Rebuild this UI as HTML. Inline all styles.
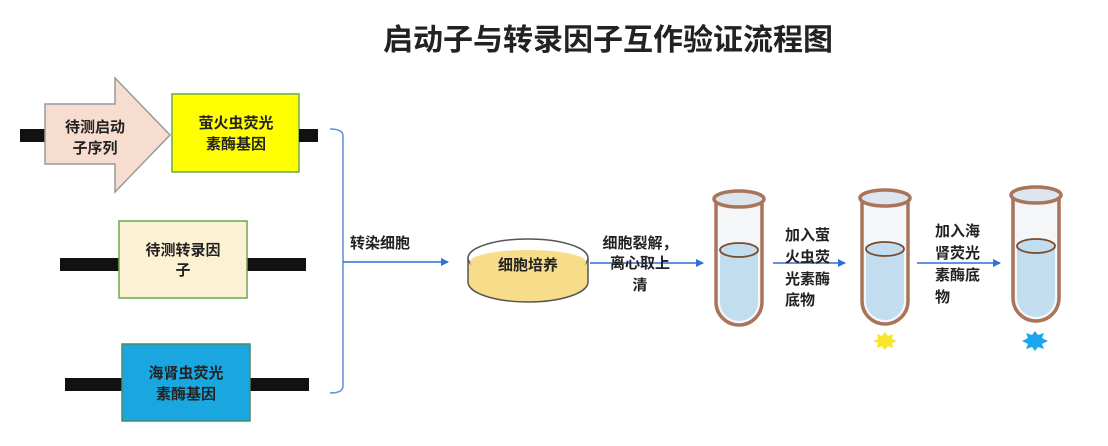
<!DOCTYPE html>
<html><head><meta charset="utf-8"><style>
html,body{margin:0;padding:0;background:#fff;}
svg{display:block;font-family:"Liberation Sans","Noto Sans CJK SC",sans-serif;}
</style></head><body>
<svg width="1108" height="446" viewBox="0 0 1108 446">
<defs>
<g id="tube">
<path d="M3,0 L3,103 A23,23 0 0 0 49,103 L49,0" fill="#f4f6f8" stroke="#a8745a" stroke-width="3.5"/>
<path d="M7,51 L7,103 A19,19 0 0 0 45,103 L45,51 Z" fill="#c3ddf0"/>
<ellipse cx="26" cy="51" rx="19" ry="7" fill="#c3ddf0" stroke="#7a4a2a" stroke-width="1.8"/>
<ellipse cx="26" cy="0" rx="25" ry="8" fill="#dde6ee" stroke="#a8745a" stroke-width="3.5"/>
</g>
<marker id="ah" markerWidth="8" markerHeight="8" refX="7" refY="4" orient="auto" markerUnits="userSpaceOnUse"><path d="M0,0 L8,4 L0,8 Z" fill="#2f6fd6"/></marker>
</defs>
<text x="608" y="50" text-anchor="middle" font-size="30" font-weight="bold" fill="#222">启动子与转录因子互作验证流程图</text>

<!-- row 1 -->
<rect x="20" y="129" width="27" height="13" fill="#111"/>
<path d="M45,104 L115,104 L115,78 L170,135 L115,192 L115,164 L45,164 Z" fill="#f6ddd0" stroke="#9a9a9a" stroke-width="1.5"/>
<text x="95" y="132" text-anchor="middle" font-size="15" font-weight="bold" fill="#222">待测启动</text>
<text x="95" y="153" text-anchor="middle" font-size="15" font-weight="bold" fill="#222">子序列</text>
<rect x="172" y="94" width="127" height="78" fill="#ffff00" stroke="#6aa84f" stroke-width="1.5"/>
<text x="236" y="128" text-anchor="middle" font-size="15" font-weight="bold" fill="#222">萤火虫荧光</text>
<text x="236" y="149" text-anchor="middle" font-size="15" font-weight="bold" fill="#222">素酶基因</text>
<rect x="299" y="129" width="19" height="13" fill="#111"/>

<!-- row 2 -->
<rect x="60" y="258" width="60" height="13" fill="#111"/>
<rect x="247" y="258" width="59" height="13" fill="#111"/>
<rect x="119" y="221" width="128" height="77" fill="#fdf1d3" stroke="#6aa84f" stroke-width="1.5"/>
<text x="183" y="255" text-anchor="middle" font-size="15" font-weight="bold" fill="#222">待测转录因</text>
<text x="183" y="275" text-anchor="middle" font-size="15" font-weight="bold" fill="#222">子</text>

<!-- row 3 -->
<rect x="65" y="378" width="58" height="13" fill="#111"/>
<rect x="250" y="378" width="59" height="13" fill="#111"/>
<rect x="122" y="344" width="128" height="77" fill="#1aa7df" stroke="#4a8a6a" stroke-width="1.5"/>
<text x="186" y="378" text-anchor="middle" font-size="15" font-weight="bold" fill="#222">海肾虫荧光</text>
<text x="186" y="399" text-anchor="middle" font-size="15" font-weight="bold" fill="#222">素酶基因</text>

<!-- bracket -->
<path d="M330,129 Q343,129 343,136 L343,386 Q343,393 330,393" fill="none" stroke="#5b8fd6" stroke-width="1.5"/>
<line x1="343" y1="262" x2="448" y2="262" stroke="#2f6fd6" stroke-width="1.5" marker-end="url(#ah)"/>
<text x="350" y="248" font-size="15" font-weight="bold" fill="#222">转染细胞</text>

<!-- dish -->
<path d="M468,258 L468,282 A60,20 0 0 0 588,282 L588,258" fill="#f7dc8a" stroke="#555" stroke-width="1.5"/>
<ellipse cx="528" cy="258" rx="60" ry="19" fill="#fff" stroke="#555" stroke-width="1.5"/>
<path d="M470,262 A58,16 0 0 0 586,262 A58,12 0 0 0 470,262 Z" fill="#f7dc8a"/>
<text x="528" y="270" text-anchor="middle" font-size="15" font-weight="bold" fill="#222">细胞培养</text>

<line x1="590" y1="263" x2="703" y2="263" stroke="#2f6fd6" stroke-width="1.5" marker-end="url(#ah)"/>
<text x="640" y="248" text-anchor="middle" font-size="15" font-weight="bold" fill="#222">细胞裂解，</text>
<text x="640" y="268" text-anchor="middle" font-size="15" font-weight="bold" fill="#222">离心取上</text>
<text x="640" y="290" text-anchor="middle" font-size="15" font-weight="bold" fill="#222">清</text>

<use href="#tube" x="713" y="199"/>
<line x1="773" y1="263" x2="845" y2="263" stroke="#2f6fd6" stroke-width="1.5" marker-end="url(#ah)"/>
<text x="785" y="240" font-size="15" font-weight="bold" fill="#222">加入萤</text>
<text x="785" y="262" font-size="15" font-weight="bold" fill="#222">火虫荧</text>
<text x="785" y="284" font-size="15" font-weight="bold" fill="#222">光素酶</text>
<text x="785" y="305" font-size="15" font-weight="bold" fill="#222">底物</text>

<use href="#tube" x="859" y="198"/>
<line x1="917" y1="263" x2="1000" y2="263" stroke="#2f6fd6" stroke-width="1.5" marker-end="url(#ah)"/>
<text x="935" y="236" font-size="15" font-weight="bold" fill="#222">加入海</text>
<text x="935" y="258" font-size="15" font-weight="bold" fill="#222">肾荧光</text>
<text x="935" y="280" font-size="15" font-weight="bold" fill="#222">素酶底</text>
<text x="935" y="302" font-size="15" font-weight="bold" fill="#222">物</text>

<use href="#tube" x="1010" y="195"/>

<polygon points="885,332 888,336 893,334 892,339 897,341 892,343 893,348 888,346 885,350 882,346 877,348 878,343 873,341 878,339 877,334 882,336" fill="#f5e62a"/>
<polygon points="1035,331 1038,335 1044,333 1042,338 1048,341 1042,344 1044,349 1038,347 1035,351 1032,347 1026,349 1028,344 1022,341 1028,338 1026,333 1032,335" fill="#1aa7ef"/>
</svg>
</body></html>
